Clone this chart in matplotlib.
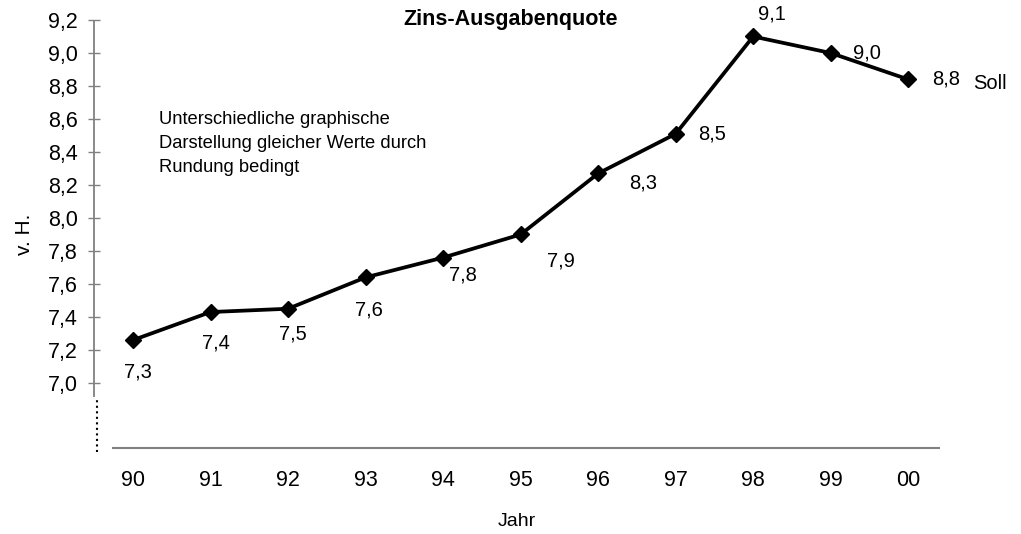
import matplotlib.pyplot as plt

plt.rcParams['font.family'] = ['Liberation Sans', 'DejaVu Sans']

jahre = ['90', '91', '92', '93', '94', '95', '96', '97', '98', '99', '00']
quote = [7.26, 7.43, 7.45, 7.64, 7.76, 7.90, 8.27, 8.51, 9.10, 9.00, 8.84]
beschriftung = ['7,3', '7,4', '7,5', '7,6', '7,8', '7,9', '8,3', '8,5', '9,1', '9,0', '8,8']
yticks = [7.0, 7.2, 7.4, 7.6, 7.8, 8.0, 8.2, 8.4, 8.6, 8.8, 9.0, 9.2]

# label offsets in pixels (dx, dy)
versatz = [(5, -32), (5, -31), (5, -25), (3, -33), (20, -17), (40, -27),
           (45, -10), (36, 0), (19, 22), (36, 0), (38, 0)]

W, H = 1021, 534
fig = plt.figure(figsize=(W / 100, H / 100), dpi=100)
ax = fig.add_axes([94 / W, 1 - 448 / H, (940 - 94) / W, (448 - 20) / H])

x = list(range(len(jahre)))
ax.plot(x, quote, color='black', linewidth=2.7, marker='D', markersize=8.5, clip_on=False)

for xi, yi, lab, (dx, dy) in zip(x, quote, beschriftung, versatz):
    ax.annotate(lab, (xi, yi), xytext=(dx, dy), textcoords='offset pixels',
                ha='center', va='center', fontsize=14.5)
ax.annotate('Soll', (x[-1], quote[-1]), xytext=(82, -4), textcoords='offset pixels',
            ha='center', va='center', fontsize=14.5, annotation_clip=False)

ax.set_xlim(-0.503, 10.41)
ax.set_ylim(6.606, 9.2)
for s in ax.spines.values():
    s.set_visible(False)

# y axis: solid part, then dotted break
ax.vlines(-0.503, 6.915, 9.2, color='#808080', linewidth=1.3, clip_on=False)
ax.plot([-0.465, -0.465], [6.582, 6.915], color='black', linestyle=':', linewidth=1.5, clip_on=False)
# x axis line
ax.hlines(6.606, -0.27, 10.41, color='#808080', linewidth=1.5, clip_on=False)

ax.set_yticks(yticks)
ax.set_yticklabels([f'{v:.1f}'.replace('.', ',') for v in yticks], fontsize=15.5)
ax.tick_params(axis='y', direction='inout', length=9, width=1, color='#808080', pad=7)
ax.set_xticks(x)
ax.set_xticklabels(jahre, fontsize=15.5)
ax.tick_params(axis='x', length=0, pad=16)

ax.set_ylabel('v. H.', fontsize=15, labelpad=10)
ax.set_xlabel('Jahr', fontsize=14, labelpad=16)

fig.text(511 / W, 1 - 19 / H, 'Zins-Ausgabenquote', ha='center', va='center',
         fontsize=15.5, fontweight='bold')
for i, zeile in enumerate(['Unterschiedliche graphische',
                           'Darstellung gleicher Werte durch',
                           'Rundung bedingt']):
    fig.text(159 / W, 1 - (119 + i * 24.5) / H, zeile, ha='left', va='center', fontsize=13.2)

fig.savefig('out.png', dpi=100)
